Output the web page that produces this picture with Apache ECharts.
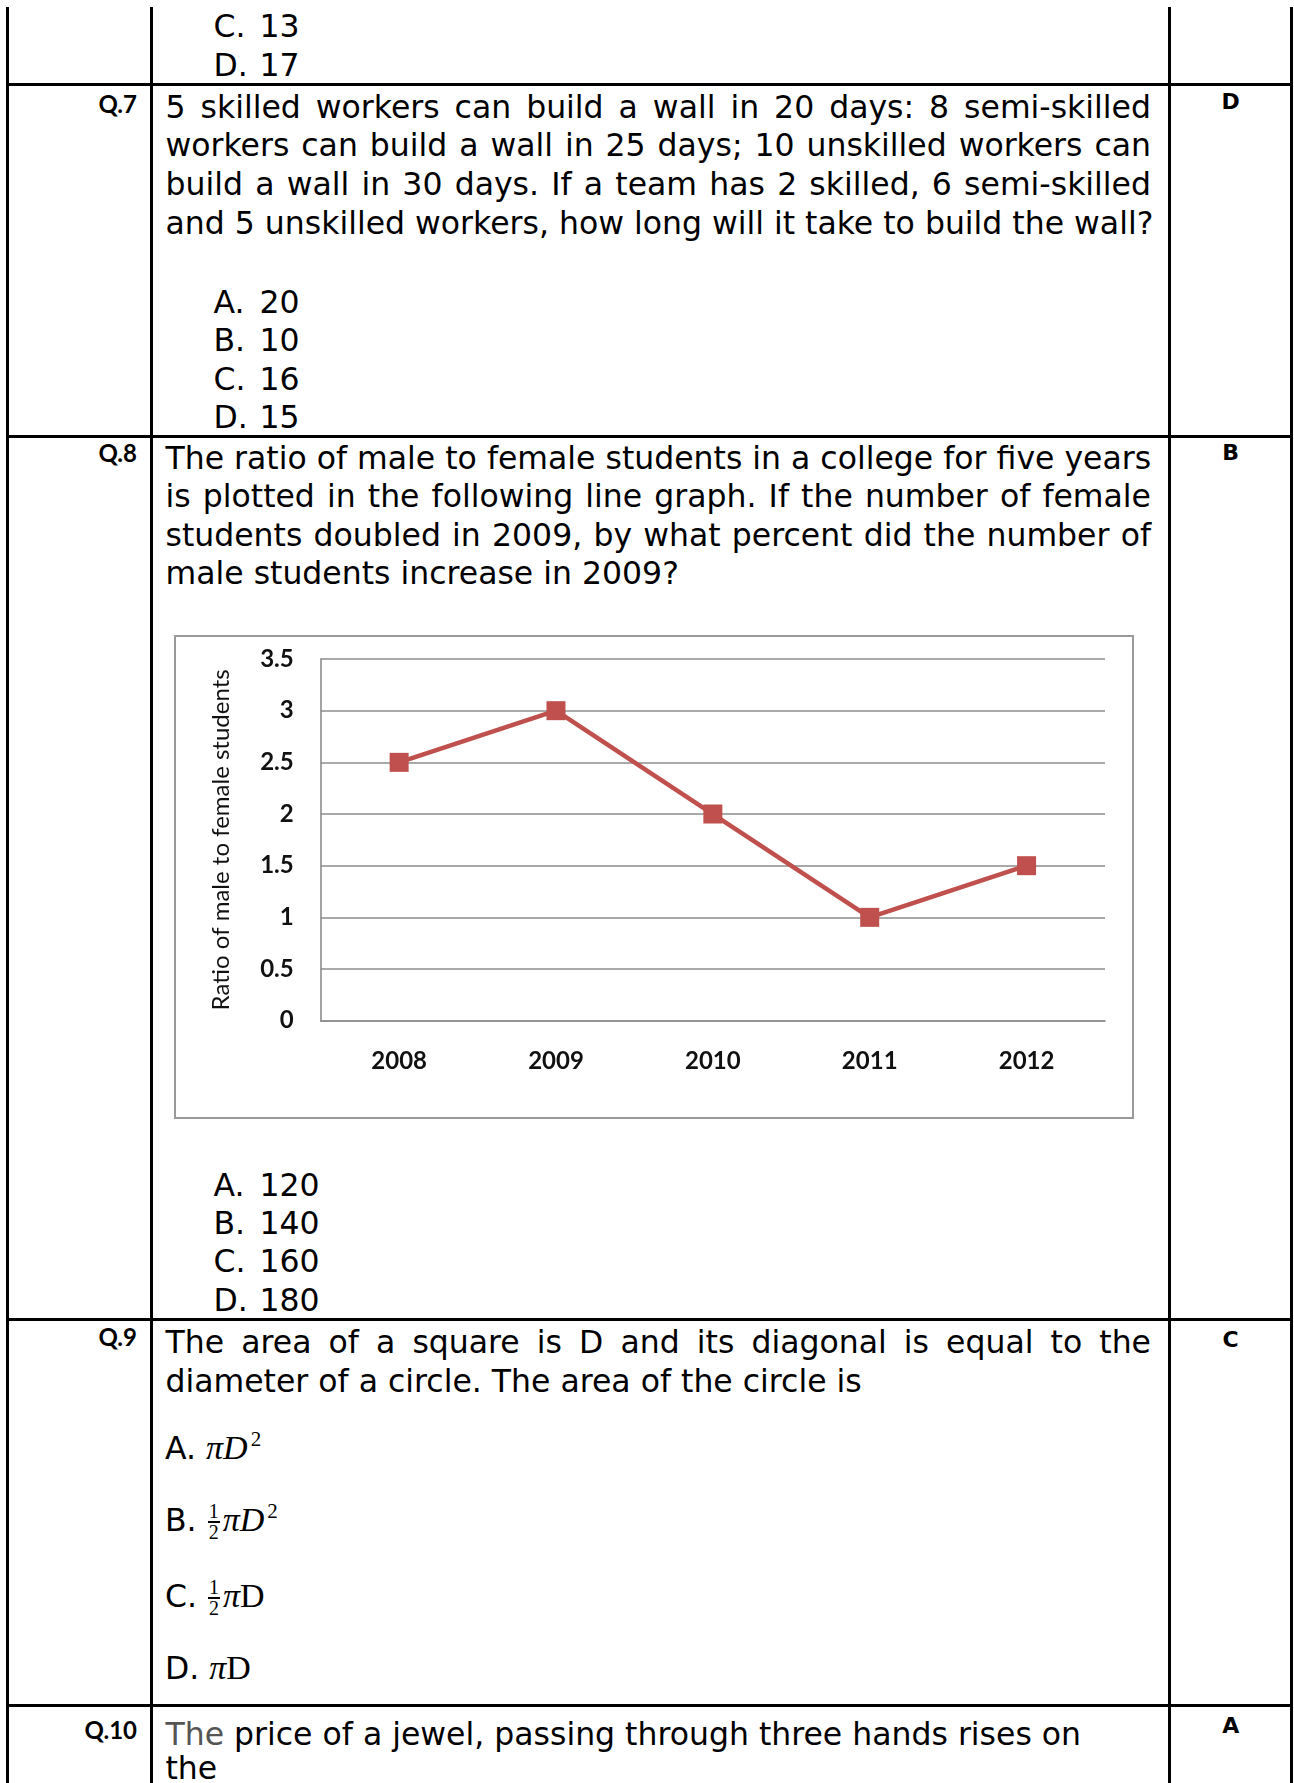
<!DOCTYPE html>
<html><head><meta charset="utf-8">
<script src="https://cdn.jsdelivr.net/npm/echarts@6/dist/echarts.min.js"></script>
<style>
html,body{margin:0;padding:0;background:#fff;}
body{width:1294px;height:1783px;position:relative;overflow:hidden;font-family:"DejaVu Sans",Verdana,sans-serif;color:#000;}
.v{position:absolute;width:3px;background:#000;top:7px;height:1776px;}
.h{position:absolute;height:3px;background:#000;left:6px;width:1287px;}
.t{position:absolute;font-size:31.5px;line-height:38px;white-space:nowrap;}
.j{width:985.5px;text-align:justify;text-align-last:justify;}
.ol{display:inline-block;width:46px;}
.q{position:absolute;font-family:Lato,sans-serif;font-weight:700;font-size:24px;line-height:24px;text-align:right;width:137px;left:0;}
.ans{position:absolute;font-family:"DejaVu Sans",sans-serif;font-weight:700;font-size:22px;line-height:22px;width:60px;left:1200.7px;text-align:center;}
.mi{font-family:"Liberation Serif",serif;font-style:italic;font-size:34px;}
.mr{font-family:"Liberation Serif",serif;font-size:34px;}
.sp{font-family:"Liberation Serif",serif;font-size:21px;position:relative;top:-13px;margin-left:3px;}
.frac{display:inline-flex;flex-direction:column;align-items:center;vertical-align:middle;font-family:"Liberation Serif",serif;font-size:20px;line-height:17px;margin:0 3px 0 1px;}
.bar{width:12px;height:2px;background:#000;margin:1px 0;}
#frame{position:absolute;left:174px;top:635px;width:960px;height:484px;box-sizing:border-box;border:2px solid #9a9a9a;pointer-events:none;}
#chart{position:absolute;left:174px;top:635px;width:960px;height:484px;}
</style>
</head>
<body>
<!-- table rules -->
<div class="v" style="left:6px"></div>
<div class="v" style="left:150px"></div>
<div class="v" style="left:1167.5px"></div>
<div class="v" style="left:1289.5px"></div>
<div class="h" style="top:83px"></div>
<div class="h" style="top:434.5px"></div>
<div class="h" style="top:1317.5px"></div>
<div class="h" style="top:1703.5px"></div>

<!-- Q6 tail -->
<div class="t" style="left:213.5px;top:6.5px"><span class="ol">C.</span>13</div>
<div class="t" style="left:213.5px;top:45.5px"><span class="ol">D.</span>17</div>

<!-- Q7 -->
<div class="q" style="top:92px">Q.7</div>
<div class="ans" style="top:91px">D</div>
<div class="t j" style="left:165.5px;top:87.5px">5 skilled workers can build a wall in 20 days: 8 semi-skilled</div>
<div class="t j" style="left:165.5px;top:126.2px">workers can build a wall in 25 days; 10 unskilled workers can</div>
<div class="t j" style="left:165.5px;top:164.9px">build a wall in 30 days. If a team has 2 skilled, 6 semi-skilled</div>
<div class="t" style="left:165.5px;top:203.6px">and 5 unskilled workers, how long will it take to build the wall?</div>
<div class="t" style="left:213.5px;top:282.5px"><span class="ol">A.</span>20</div>
<div class="t" style="left:213.5px;top:321px"><span class="ol">B.</span>10</div>
<div class="t" style="left:213.5px;top:359.5px"><span class="ol">C.</span>16</div>
<div class="t" style="left:213.5px;top:397.5px"><span class="ol">D.</span>15</div>

<!-- Q8 -->
<div class="q" style="top:441px">Q.8</div>
<div class="ans" style="top:442px">B</div>
<div class="t j" style="left:165.5px;top:438.5px">The ratio of male to female students in a college for five years</div>
<div class="t j" style="left:165.5px;top:477px">is plotted in the following line graph. If the number of female</div>
<div class="t j" style="left:165.5px;top:515.5px">students doubled in 2009, by what percent did the number of</div>
<div class="t" style="left:165.5px;top:553.5px">male students increase in 2009?</div>

<div id="chart"></div>
<div id="frame"></div>

<div class="t" style="left:213.5px;top:1165.5px"><span class="ol">A.</span>120</div>
<div class="t" style="left:213.5px;top:1203.5px"><span class="ol">B.</span>140</div>
<div class="t" style="left:213.5px;top:1241.5px"><span class="ol">C.</span>160</div>
<div class="t" style="left:213.5px;top:1280.5px"><span class="ol">D.</span>180</div>

<!-- Q9 -->
<div class="q" style="top:1325px">Q.9</div>
<div class="ans" style="top:1329px">C</div>
<div class="t j" style="left:165.5px;top:1322.5px">The area of a square is D and its diagonal is equal to the</div>
<div class="t" style="left:165.5px;top:1362px">diameter of a circle. The area of the circle is</div>
<div class="t" style="left:165px;top:1428.5px">A. <span class="mi">πD</span><span class="sp">2</span></div>
<div class="t" style="left:165px;top:1500.5px">B. <span class="frac"><span>1</span><span class="bar"></span><span>2</span></span><span class="mi">πD</span><span class="sp">2</span></div>
<div class="t" style="left:165px;top:1576.5px">C. <span class="frac"><span>1</span><span class="bar"></span><span>2</span></span><span class="mi">π</span><span class="mr">D</span></div>
<div class="t" style="left:165px;top:1648.5px">D. <span class="mi">π</span><span class="mr">D</span></div>

<!-- Q10 -->
<div class="q" style="top:1718px">Q.10</div>
<div class="ans" style="top:1715px">A</div>
<div class="t" style="left:165.5px;top:1714.5px"><span style="color:#555">The</span> price of a jewel, passing through three hands rises on</div>
<div class="t" style="left:165.5px;top:1749px">the</div>

<script>
// ---- data ----
const years = ['2008', '2009', '2010', '2011', '2012'];
const ratios = [2.5, 3, 2, 1, 1.5];
const yMin = 0;
const yMax = 3.5;
const yStep = 0.5;
const yAxisTitle = 'Ratio of male to female students';

const chart = echarts.init(document.getElementById('chart'), null, {renderer: 'canvas'});
const gridColor = '#8c8c8c';
chart.setOption({
  animation: false,
  backgroundColor: '#fff',
  textStyle: {fontFamily: 'Lato'},
  grid: {left: 146.7, right: 29, top: 24, bottom: 98.3, containLabel: false},
  xAxis: {
    type: 'category',
    data: years,
    boundaryGap: true,
    axisLine: {show: true, lineStyle: {color: gridColor, width: 1.6}},
    axisTick: {show: false},
    axisLabel: {color: '#111', fontFamily: 'Lato', fontWeight: 'bold', fontSize: 24, margin: 29},
    splitLine: {show: false}
  },
  yAxis: {
    type: 'value',
    min: yMin, max: yMax, interval: yStep,
    name: yAxisTitle,
    nameLocation: 'middle',
    nameGap: 87,
    nameRotate: 90,
    nameTextStyle: {color: '#111', fontFamily: 'Lato', fontSize: 24},
    axisLine: {show: true, lineStyle: {color: gridColor, width: 1.6}},
    axisTick: {show: false},
    axisLabel: {color: '#111', fontFamily: 'Lato', fontWeight: 'bold', fontSize: 24, margin: 27},
    splitLine: {show: true, lineStyle: {color: gridColor, width: 1.6}}
  },
  series: [{
    type: 'line',
    data: ratios,
    symbol: 'rect',
    symbolSize: 19,
    showSymbol: true,
    lineStyle: {color: '#C0504D', width: 4.5},
    itemStyle: {color: '#C0504D'},
    emphasis: {disabled: true}
  }]
});
</script>
</body></html>
